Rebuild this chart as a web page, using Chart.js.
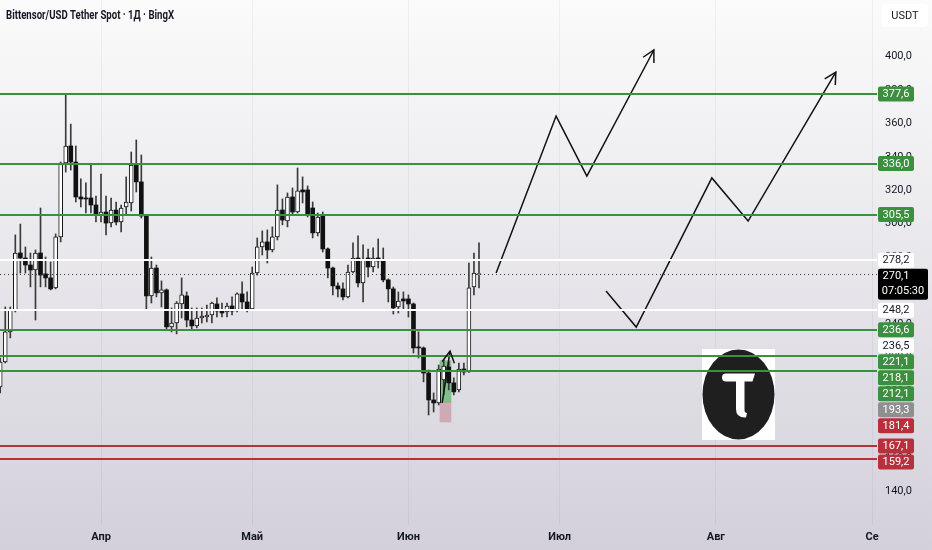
<!DOCTYPE html>
<html><head><meta charset="utf-8">
<script src="https://cdn.jsdelivr.net/npm/chart.js@4.4.1/dist/chart.umd.min.js"></script>
<style>html,body{margin:0;padding:0;background:#fff;}canvas{display:block}</style>
</head><body>
<canvas id="c" width="932" height="550"></canvas>
<script>
const chartTitle = 'Bittensor/USD Tether Spot · 1Д · BingX';
const currencyLabel = 'USDT';
const startDay = -20; // first candle, days relative to 1 Apr
const opens  = [202.4,217.3,235.3,248.4,282.5,279.5,275.3,272.3,282.5,270.0,267.6,261.6,292.1,336.3,346.5,336.9,316.0,315.4,315.4,311.2,305.2,307.0,300.4,308.2,301.0,310.0,312.4,335.1,325.0,304.6,256.8,273.5,258.6,260.4,238.3,240.6,252.0,256.8,242.4,238.9,243.6,244.2,245.4,252.0,247.8,247.2,250.8,248.4,258.0,253.2,249.0,270.5,286.1,289.1,284.3,292.1,308.2,301.6,316.0,307.0,320.2,320.2,309.4,294.5,304.6,284.9,273.5,262.8,261.0,256.2,271.1,279.5,264.6,279.5,274.1,279.5,277.7,266.4,261.0,250.2,255.0,255.0,252.0,226.3,225.7,210.7,194.6,192.8,206.6,214.3,204.8,200.6,213.1,211.3,262.2,269.5];
const highs  = [219.7,250.2,250.2,293.3,299.8,286.1,282.5,284.3,309.4,280.1,277.1,293.9,336.9,377.6,359.6,346.5,326.8,324.4,335.1,316.6,329.7,316.6,315.4,313.0,311.2,328.0,342.9,350.1,341.1,305.5,280.1,275.3,265.8,261.0,249.6,253.5,267.6,259.2,249.6,249.6,249.6,251.4,253.2,255.6,252.6,252.6,256.2,258.6,265.2,259.2,274.1,291.5,295.7,296.3,298.1,323.2,314.8,318.4,321.4,333.3,328.0,322.6,313.0,306.4,307.0,285.5,274.1,264.6,264.6,275.3,288.5,292.7,287.3,284.9,285.5,290.9,285.5,267.0,262.2,259.2,259.2,257.4,252.6,235.3,226.3,212.5,198.8,215.5,218.5,217.3,207.8,216.7,216.7,276.5,282.5,288.5];
const lows   = [198.8,216.7,231.7,247.2,270.5,270.5,262.2,242.4,262.2,262.2,260.4,261.0,289.1,330.9,332.1,313.0,310.0,306.4,306.4,301.0,301.0,293.3,298.1,299.3,295.1,305.2,307.6,319.0,303.4,248.4,252.6,256.2,250.2,236.5,235.3,234.1,243.6,238.3,236.5,237.7,240.6,241.2,240.6,244.2,244.2,244.2,245.4,247.2,248.4,247.2,248.4,269.3,281.3,276.5,283.1,290.3,299.3,298.1,305.2,306.4,312.4,304.0,291.5,292.7,283.1,267.6,257.4,256.2,254.4,255.6,270.5,262.2,253.2,268.2,271.1,273.5,265.2,253.2,246.0,246.6,248.4,244.2,222.7,219.7,205.4,185.6,187.4,191.6,197.6,200.6,197.6,199.4,209.5,211.0,257.4,261.6];
const closes = [217.3,235.3,248.4,282.5,279.5,275.3,272.3,282.5,269.3,267.6,261.0,292.1,336.3,346.5,336.9,316.0,314.8,314.8,311.2,305.8,307.0,300.4,308.2,301.0,309.4,313.0,335.1,325.0,304.6,256.8,273.5,258.6,260.4,238.3,240.6,252.6,257.4,242.4,238.9,243.6,244.8,245.4,252.6,247.8,246.6,250.8,247.8,258.0,253.2,249.0,270.5,286.1,289.1,284.3,292.1,308.2,302.2,316.0,307.0,319.6,319.0,305.2,294.5,304.0,284.9,273.5,262.8,261.0,256.2,271.1,279.5,264.6,278.9,274.1,279.5,277.7,266.4,261.0,249.6,253.8,253.8,252.0,225.7,225.7,210.7,194.6,192.8,213.1,214.9,204.8,199.4,213.1,211.3,261.6,270.5,270.1];

const monthTicks  = [0, 30, 61, 91, 122, 153];
const monthLabels = ['Апр', 'Май', 'Июн', 'Июл', 'Авг', 'Се'];
const priceTicks  = [140,160,180,200,220,240,260,280,300,320,340,360,380,400];

const greenLevels = [377.6, 336.0, 305.5, 236.6, 221.1, 212.1];
const redLevels   = [167.1, 159.2];
const whiteLevels = [278.2, 248.2, 236.5];
const currentPrice = 270.1;
const countdown = '07:05:30';

const positionDay = 68.35;
const positionTarget = 218.1, positionEntry = 193.3, positionStop = 181.4;

const arrow1Days   = [78.4, 90.3, 96.4, 109.7];
const arrow1Prices = [270.5, 364.4, 328.5, 403.9];
const arrow2Days   = [100.2, 106.2, 121.2, 128.4, 145.8];
const arrow2Prices = [259.8, 238.2, 327.4, 301.6, 390.7];
const arrow3Days   = [67.7, 69.25];
const arrow3Prices = [192.8, 223.8];

// axis price labels: [value, background, text]
const axisLabels = [
  [377.6,'#3b8f3f','#fff'],[336.0,'#3b8f3f','#fff'],[305.5,'#3b8f3f','#fff'],
  [278.2,'#ffffff','#131722'],[270.1,'#000000','#ffffff'],[248.2,'#ffffff','#131722'],
  [236.6,'#3b8f3f','#fff'],[236.5,'#ffffff','#131722'],[221.1,'#3b8f3f','#fff'],
  [218.1,'#3b8f3f','#fff'],[212.1,'#3b8f3f','#fff'],[193.3,'#8f8f8f','#fff'],
  [181.4,'#b8303c','#fff'],[167.1,'#b8303c','#fff'],[159.2,'#b8303c','#fff']
];

const fmt = v => v.toFixed(1).replace('.', ',');
const days = opens.map((_, i) => startDay + i);
const wickData = days.map((d, i) => ({x: d, y: [lows[i], highs[i]]}));
const bullData = days.map((d, i) => closes[i] >= opens[i] ? {x: d, y: [opens[i], closes[i]]} : null).filter(Boolean);
const bearData = days.map((d, i) => closes[i] < opens[i] ? {x: d, y: [opens[i], closes[i]]} : null).filter(Boolean);
const toPts = (xs, ys) => xs.map((x, i) => ({x, y: ys[i]}));

const GREEN = '#3b8f3f', RED = '#b8303c';

function arrowHead(ctx, x1, y1, x2, y2) {
  const a = Math.atan2(y2 - y1, x2 - x1) + Math.PI;
  const L = 13, s = 0.49;
  ctx.beginPath();
  ctx.moveTo(x2 + L * Math.cos(a - s), y2 + L * Math.sin(a - s));
  ctx.lineTo(x2, y2);
  ctx.lineTo(x2 + L * Math.cos(a + s), y2 + L * Math.sin(a + s));
  ctx.stroke();
}

const decor = {
  id: 'decor',
  beforeDraw(chart) {
    const ctx = chart.ctx;
    const g = ctx.createLinearGradient(0, 0, 0, chart.height);
    g.addColorStop(0, '#fbfbfb');
    g.addColorStop(1, '#d3d0da');
    ctx.save(); ctx.fillStyle = g; ctx.fillRect(0, 0, chart.width, chart.height); ctx.restore();
  },
  beforeDatasetsDraw(chart) {
    const ctx = chart.ctx;
    // logo
    ctx.save();
    ctx.fillStyle = '#ffffff'; ctx.fillRect(702, 349, 73, 91);
    ctx.fillStyle = '#1f1f1f';
    ctx.beginPath(); ctx.ellipse(738.5, 394.5, 36, 45, 0, 0, Math.PI * 2); ctx.fill();
    ctx.fillStyle = '#ffffff';
    ctx.beginPath();
    ctx.moveTo(726, 373.5); ctx.lineTo(755, 373.5); ctx.lineTo(752.5, 381.5);
    ctx.lineTo(744.5, 381.5); ctx.lineTo(744.5, 410);
    ctx.quadraticCurveTo(744.5, 413, 747, 413); ctx.lineTo(746, 417.5);
    ctx.quadraticCurveTo(736, 418, 736, 409); ctx.lineTo(736, 381.5);
    ctx.lineTo(726, 381.5); ctx.arc(726, 377.5, 4, Math.PI / 2, Math.PI * 1.5);
    ctx.closePath(); ctx.fill();
    ctx.restore();
  },
  afterDatasetsDraw(chart) {
    const ctx = chart.ctx, ca = chart.chartArea, y = chart.scales.y, x = chart.scales.x;
    ctx.save();
    ctx.beginPath(); ctx.rect(ca.left, ca.top, ca.right - ca.left, ca.bottom - ca.top); ctx.clip();
    const hline = (v, color, w) => {
      const py = Math.round(y.getPixelForValue(v));
      ctx.strokeStyle = color; ctx.lineWidth = w;
      ctx.beginPath(); ctx.moveTo(ca.left, py); ctx.lineTo(ca.right, py); ctx.stroke();
    };
    whiteLevels.forEach(v => hline(v, '#ffffff', 2));
    greenLevels.forEach(v => hline(v, GREEN, 2));
    redLevels.forEach(v => hline(v, RED, 2));
    // current price dotted
    const pp = Math.round(y.getPixelForValue(currentPrice)) + 0.5;
    ctx.setLineDash([1, 3]); ctx.strokeStyle = '#333'; ctx.lineWidth = 1;
    ctx.beginPath(); ctx.moveTo(ca.left, pp); ctx.lineTo(ca.right, pp); ctx.stroke();
    ctx.setLineDash([]);
    // arrow heads
    ctx.strokeStyle = '#111'; ctx.lineWidth = 1.5;
    [[arrow1Days, arrow1Prices], [arrow2Days, arrow2Prices], [arrow3Days, arrow3Prices]].forEach(([xs, ys]) => {
      const n = xs.length;
      arrowHead(ctx, x.getPixelForValue(xs[n - 2]), y.getPixelForValue(ys[n - 2]),
                     x.getPixelForValue(xs[n - 1]), y.getPixelForValue(ys[n - 1]));
    });
    ctx.restore();
  },
  afterDraw(chart) {
    const ctx = chart.ctx, ca = chart.chartArea, y = chart.scales.y;
    ctx.save();
    // price labels with stacking
    const sorted = axisLabels.slice().sort((a, b) => b[0] - a[0]);
    let prevBottom = -Infinity;
    ctx.font = '11px Roboto'; ctx.textBaseline = 'middle'; ctx.textAlign = 'center';
    sorted.forEach(([v, bg, fg]) => {
      const isCur = v === currentPrice;
      const h = isCur ? 31 : 15;
      let top = y.getPixelForValue(v) - 7.5;
      if (top < prevBottom + 1) top = prevBottom + 1;
      const w = isCur ? 50 : 36;
      const x0 = ca.right + 1;
      ctx.fillStyle = bg;
      ctx.beginPath(); ctx.roundRect(x0, top, w, h, 2); ctx.fill();
      ctx.fillStyle = fg;
      ctx.fillText(fmt(v), x0 + 18, top + 7.8);
      if (isCur) ctx.fillText(countdown, x0 + 25, top + 22.5);
      prevBottom = top + h;
    });
    // USDT box
    ctx.fillStyle = '#ffffff';
    ctx.beginPath(); ctx.roundRect(882, 4, 46, 23, 4); ctx.fill();
    ctx.fillStyle = '#131722'; ctx.font = '11px Roboto';
    ctx.fillText(currencyLabel, 905, 16);
    // title
    ctx.textAlign = 'left';
    ctx.font = 'bold 12px Roboto';
    ctx.fillStyle = '#131722';
    ctx.fillText(chartTitle, 6, 15.5, 168);
    ctx.restore();
  }
};

const barCommon = {type: 'bar', grouped: false, borderSkipped: false, minBarLength: 1};
new Chart(document.getElementById('c'), {
  type: 'bar',
  data: {
    datasets: [
      {type: 'line', data: toPts(arrow1Days, arrow1Prices), borderColor: '#111', borderWidth: 1.5, pointRadius: 0, tension: 0, fill: false, order: 0},
      {type: 'line', data: toPts(arrow2Days, arrow2Prices), borderColor: '#111', borderWidth: 1.5, pointRadius: 0, tension: 0, fill: false, order: 0},
      {type: 'line', data: toPts(arrow3Days, arrow3Prices), borderColor: '#111', borderWidth: 1.5, pointRadius: 0, tension: 0, fill: false, order: 0},
      Object.assign({}, barCommon, {data: bullData, backgroundColor: '#ffffff', borderColor: '#161616', borderWidth: 1, barThickness: 4, order: 2}),
      Object.assign({}, barCommon, {data: bearData, backgroundColor: '#111111', borderWidth: 0, barThickness: 4, order: 2}),
      Object.assign({}, barCommon, {data: wickData, backgroundColor: '#3a3a3a', borderWidth: 0, barThickness: 1, order: 3}),
      Object.assign({}, barCommon, {data: [{x: positionDay, y: [positionEntry, positionTarget]}], backgroundColor: 'rgba(70,168,76,0.6)', borderWidth: 0, barThickness: 11, order: 5}),
      Object.assign({}, barCommon, {data: [{x: positionDay, y: [positionStop, positionEntry]}], backgroundColor: 'rgba(190,110,125,0.45)', borderWidth: 0, barThickness: 11, order: 5})
    ]
  },
  options: {
    responsive: false,
    animation: false,
    events: [],
    layout: {padding: 0, autoPadding: false},
    plugins: {legend: {display: false}, tooltip: {enabled: false}},
    scales: {
      x: {
        type: 'linear', min: -20.04, max: 153.97, offset: false,
        grid: {color: 'rgba(0,0,0,0.045)', drawTicks: false, offset: false},
        border: {display: false},
        afterBuildTicks: s => { s.ticks = monthTicks.map(v => ({value: v})); },
        afterFit: s => { s.height = 25; s.paddingLeft = 0; s.paddingRight = 0; },
        ticks: {
          autoSkip: false, maxRotation: 0, padding: 6, color: '#131722',
          font: {family: 'Roboto', size: 11, weight: 'bold'},
          callback: v => monthLabels[monthTicks.indexOf(v)]
        }
      },
      y: {
        type: 'linear', position: 'right', min: 119.8, max: 433.8,
        grid: {display: false, drawTicks: false},
        border: {display: false},
        afterBuildTicks: s => { s.ticks = priceTicks.map(v => ({value: v})); },
        afterFit: s => { s.width = 55; s.paddingTop = 0; s.paddingBottom = 0; },
        ticks: {padding: 8, color: '#131722', font: {family: 'Roboto', size: 11}, callback: v => fmt(v)}
      }
    }
  },
  plugins: [decor]
});
</script>
</body></html>
